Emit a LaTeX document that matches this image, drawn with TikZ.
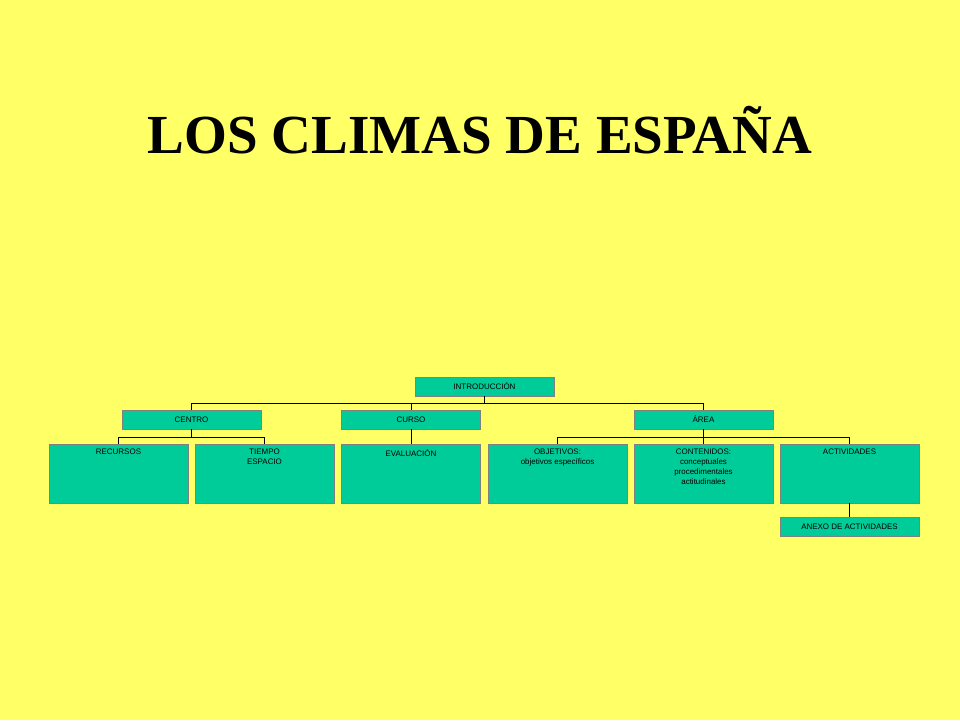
\documentclass[tikz,border=0pt]{standalone}
\usepackage{fontspec}
\setmainfont{Liberation Serif}
\newfontfamily\boxfont{Liberation Sans}
\usetikzlibrary{positioning}
\definecolor{slideyellow}{HTML}{FFFF66}
\definecolor{boxgreen}{HTML}{00CC99}
\tikzset{
  smallbox/.style={draw=gray, fill=boxgreen, minimum width=4.17cm, minimum height=0.57cm,
    inner sep=0pt, font=\boxfont\fontsize{6.8}{8}\selectfont},
  bigbox/.style={draw=gray, fill=boxgreen, minimum width=4.17cm, minimum height=1.77cm,
    inner sep=0pt},
  boxtext/.style={anchor=north, inner sep=1pt, align=center, yshift=-0.12cm,
    font=\boxfont\fontsize{6.8}{8.4}\selectfont},
  link/.style={draw=black, thick}
}
\begin{document}
\begin{tikzpicture}[x=0.03cm, y=-0.03cm]
\fill[slideyellow] (0,0) rectangle (960,720);
\useasboundingbox (0,0) rectangle (960,720);
% Title
\node (title) at (480,130) {\fontsize{47}{50}\selectfont\bfseries LOS CLIMAS DE ESPAÑA};
% Level 1 and 2
\node[smallbox] (intro) at (484.5,386.5) {INTRODUCCIÓN};
\node[smallbox] (centro) at (191.5,419.5) {CENTRO};
\node[smallbox] (curso) at (411,419.5) {CURSO};
\node[smallbox] (area) at (703.5,419.5) {ÁREA};
% Level 3
\node[bigbox, label={[boxtext]north:RECURSOS}] (recursos) at (118.5,473.5) {};
\node[bigbox, label={[boxtext]north:TIEMPO\\ESPACIO}] (tiempo) at (264.5,473.5) {};
\node[bigbox, label={[boxtext]north:EVALUACIÓN}] (evaluacion) at (411,473.5) {};
\node[bigbox, label={[boxtext]north:OBJETIVOS:\\objetivos específicos}] (objetivos) at (557.5,473.5) {};
\node[bigbox, label={[boxtext]north:CONTENIDOS:\\conceptuales\\procedimentales\\actitudinales}] (contenidos) at (703.5,473.5) {};
\node[bigbox, label={[boxtext]north:ACTIVIDADES}] (actividades) at (849.5,473.5) {};
\node[smallbox] (anexo) at (849.5,526.5) {ANEXO DE ACTIVIDADES};
% Connectors
\draw[link] (intro.south) -- ++(0,7) -| (centro.north);
\draw[link] (intro.south) ++(0,7) -| (area.north);
\draw[link] (curso.north) -- (curso.north |- 0,403);
\draw[link] (centro.south) -- ++(0,8) -| (recursos.north);
\draw[link] (centro.south) ++(0,8) -| (tiempo.north);
\draw[link] (curso.south) -- (evaluacion.north);
\draw[link] (area.south) -- ++(0,8) -| (objetivos.north);
\draw[link] (area.south) ++(0,8) -| (actividades.north);
\draw[link] (area.south) -- (contenidos.north);
\draw[link] (actividades.south) -- (anexo.north);
\end{tikzpicture}
\end{document}
